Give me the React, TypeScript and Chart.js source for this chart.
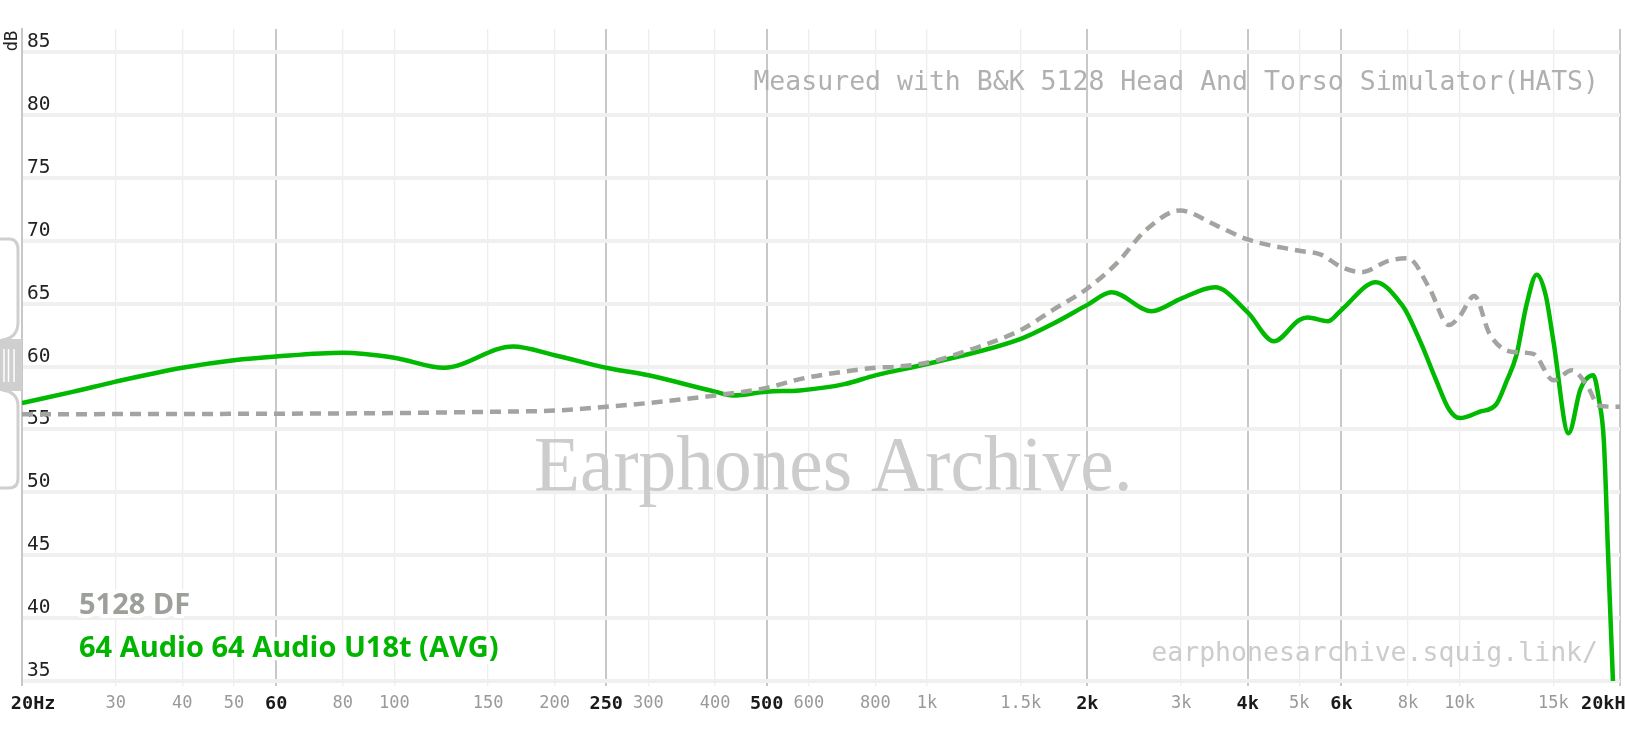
import { useEffect, useRef } from 'react';
import { Chart, registerables, Plugin } from 'chart.js';

Chart.register(...registerables);

// 5128 DF target (dashed grey)
const dfFreqs = [20, 100, 150, 200, 250, 300, 400, 500, 577, 700, 800, 886, 1000, 1200, 1500, 1724, 2000, 2270, 2584, 2985, 3497, 4000, 5000, 5490, 6000, 6544, 7354, 8000, 8756, 9548, 10000, 10654, 11380, 12420, 13750, 15000, 16240, 17340, 18256, 19776, 20000];
const dfValues = [56.2, 56.3, 56.4, 56.5, 56.8, 57.1, 57.7, 58.3, 59.0, 59.6, 59.9, 60.0, 60.3, 61.3, 62.9, 64.5, 66.2, 68.2, 70.9, 72.4, 71.2, 70.1, 69.2, 68.9, 67.9, 67.5, 68.4, 68.6, 66.3, 63.3, 64.0, 65.6, 62.6, 61.2, 61.0, 58.9, 59.7, 58.5, 56.9, 56.8, 56.8];

// 64 Audio U18t (AVG) (green)
const iemFreqs = [20, 25, 30, 40, 50, 60, 80, 100, 124, 167, 200, 250, 300, 400, 432, 500, 577, 700, 800, 1000, 1500, 1724, 2000, 2221, 2641, 3000, 3472, 4000, 4480, 5000, 5185, 5660, 6000, 6958, 7792, 8000, 8492, 9016, 9548, 10000, 10890, 11714, 12240, 12781, 13350, 13952, 14500, 15000, 16016, 16860, 17812, 18256, 18656, 19000, 19400, 20000];
const iemValues = [57.1, 58.0, 58.8, 59.9, 60.5, 60.8, 61.1, 60.7, 59.9, 61.6, 60.9, 59.9, 59.3, 58.0, 57.7, 58.0, 58.1, 58.6, 59.3, 60.2, 62.2, 63.4, 64.9, 65.9, 64.4, 65.4, 66.3, 64.3, 62.0, 63.7, 63.9, 63.6, 64.5, 66.7, 64.9, 64.1, 61.7, 59.0, 56.6, 55.9, 56.4, 57.0, 58.8, 60.9, 64.9, 67.3, 65.7, 62.0, 54.7, 58.2, 59.3, 57.4, 54.0, 45.0, 35.0, 25.0];

const xTickValues = [20, 30, 40, 50, 60, 80, 100, 150, 200, 250, 300, 400, 500, 600, 800, 1000, 1500, 2000, 3000, 4000, 5000, 6000, 8000, 10000, 15000, 20000];
const xTickLabels = ['  20Hz', '30', '40', '50', '60', '80', '100', '150', '200', '250', '300', '400', '500', '600', '800', '1k', '1.5k', '2k', '3k', '4k', '5k', '6k', '8k', '10k', '15k', '20kHz  '];
const xMajorTicks = [20, 60, 250, 500, 2000, 4000, 6000, 20000];
const yTickValues = [35, 40, 45, 50, 55, 60, 65, 70, 75, 80, 85];

const seriesNames = ['5128 DF', '64 Audio 64 Audio U18t (AVG)'];
const seriesColors = ['#a2a49f', '#00b900'];
const legendColors = ['#9da09a', '#00b400'];

const MONO = '"DejaVu Sans Mono", monospace';

const decorPlugin: Plugin<'line'> = {
  id: 'decor',
  beforeDatasetsDraw(chart) {
    const ctx = chart.ctx;
    ctx.save();
    // watermark
    ctx.save();
    ctx.translate(534, 490);
    ctx.scale(0.954, 1);
    ctx.font = '79px "Liberation Serif", serif';
    ctx.fillStyle = '#cccccc';
    ctx.textAlign = 'left';
    ctx.textBaseline = 'alphabetic';
    ctx.fillText('Earphones Archive.', 0, 0);
    ctx.restore();
    // measurement note
    ctx.font = '26.5px ' + MONO;
    ctx.textAlign = 'right';
    ctx.textBaseline = 'alphabetic';
    ctx.fillStyle = '#b0b0b0';
    ctx.fillText('Measured with B&K 5128 Head And Torso Simulator(HATS)', 1599, 90);
    ctx.fillStyle = '#cccccc';
    ctx.fillText('earphonesarchive.squig.link/', 1598, 661);
    ctx.restore();
  },
  afterDraw(chart) {
    const ctx = chart.ctx;
    ctx.save();
    // legend
    ctx.font = 'bold 29px "Open Sans", sans-serif';
    ctx.textAlign = 'left';
    ctx.textBaseline = 'alphabetic';
    ctx.lineJoin = 'round';
    const baselines = [614, 657];
    seriesNames.forEach((name, i) => {
      ctx.strokeStyle = '#ffffff';
      ctx.lineWidth = 8;
      ctx.strokeText(name, 79, baselines[i]);
      ctx.fillStyle = legendColors[i];
      ctx.fillText(name, 79, baselines[i]);
    });
    // dB title
    ctx.save();
    ctx.translate(13, 41);
    ctx.rotate(-Math.PI / 2);
    ctx.font = '17px ' + MONO;
    ctx.fillStyle = '#222';
    ctx.textAlign = 'center';
    ctx.textBaseline = 'middle';
    ctx.fillText('dB', 0, 0);
    ctx.restore();
    // side handle
    ctx.strokeStyle = '#cfcfcf';
    ctx.fillStyle = '#cfcfcf';
    ctx.lineWidth = 3;
    ctx.beginPath();
    ctx.moveTo(0, 239);
    ctx.lineTo(9, 239);
    ctx.quadraticCurveTo(18, 239, 18, 250);
    ctx.lineTo(18, 322);
    ctx.quadraticCurveTo(18, 338, 2, 340);
    ctx.stroke();
    ctx.beginPath();
    ctx.moveTo(2, 390);
    ctx.quadraticCurveTo(18, 392, 18, 406);
    ctx.lineTo(18, 478);
    ctx.quadraticCurveTo(18, 488, 9, 488);
    ctx.lineTo(0, 488);
    ctx.stroke();
    ctx.fillRect(0, 339, 22, 52);
    ctx.strokeStyle = '#ffffff';
    ctx.lineWidth = 1.5;
    [4, 8.5, 14].forEach((x) => {
      ctx.beginPath();
      ctx.moveTo(x, 349);
      ctx.lineTo(x, 382);
      ctx.stroke();
    });
    ctx.restore();
  },
};

export default function App() {
  const chartRef = useRef<HTMLCanvasElement | null>(null);

  useEffect(() => {
    if (!chartRef.current) return;
    const ctx = chartRef.current.getContext('2d');
    if (!ctx) return;

    const isMajor = (v: number) => xMajorTicks.includes(v);

    const chartInstance = new Chart(ctx, {
      type: 'line',
      data: {
        datasets: [
          {
            label: seriesNames[0],
            data: dfFreqs.map((f, i) => ({ x: f, y: dfValues[i] })),
            borderColor: seriesColors[0],
            borderWidth: 4.5,
            borderDash: [11, 7],
            pointRadius: 0,
            cubicInterpolationMode: 'monotone',
            order: 0,
          },
          {
            label: seriesNames[1],
            data: iemFreqs.map((f, i) => ({ x: f, y: iemValues[i] })),
            borderColor: seriesColors[1],
            borderWidth: 4.5,
            pointRadius: 0,
            cubicInterpolationMode: 'monotone',
            order: 1,
          },
        ],
      },
      options: {
        animation: false,
        responsive: true,
        maintainAspectRatio: false,
        layout: { padding: { top: 29, right: 5, left: 0, bottom: 0 } },
        plugins: {
          legend: { display: false },
          tooltip: { enabled: false },
        },
        scales: {
          x: {
            type: 'logarithmic',
            min: 20,
            max: 20000,
            afterBuildTicks: (scale) => {
              scale.ticks = xTickValues.map((v) => ({ value: v }));
            },
            afterFit: (scale) => {
              scale.height = 67;
              scale.paddingLeft = 0;
              scale.paddingRight = 0;
            },
            border: { display: false },
            grid: {
              drawTicks: true,
              tickLength: 5,
              color: (c) => (isMajor(c.tick?.value) ? '#c8c8c8' : '#ededed'),
              tickColor: (c) => (isMajor(c.tick?.value) ? '#c8c8c8' : '#ededed'),
              lineWidth: (c) => (isMajor(c.tick?.value) ? 2 : 1.3),
            },
            ticks: {
              autoSkip: false,
              maxRotation: 0,
              padding: 7,
              callback: (value) => xTickLabels[xTickValues.indexOf(Number(value))] ?? '',
              color: (c) => (isMajor(c.tick?.value) ? '#1a1a1a' : '#999999'),
              font: (c) =>
                isMajor(c.tick?.value)
                  ? { family: MONO, size: 18.5, weight: 'bold' }
                  : { family: MONO, size: 17, weight: 'normal' },
            },
          },
          y: {
            type: 'linear',
            position: 'left',
            min: 35,
            max: 86.83,
            afterBuildTicks: (scale) => {
              scale.ticks = yTickValues.map((v) => ({ value: v }));
            },
            afterFit: (scale) => {
              scale.width = 22;
              scale.paddingTop = 0;
              scale.paddingBottom = 0;
            },
            border: { display: true, color: '#c8c8c8', width: 2 },
            grid: {
              drawTicks: false,
              color: '#f0f0f0',
              lineWidth: 4,
            },
            ticks: {
              mirror: true,
              padding: 5,
              labelOffset: -10,
              color: '#222222',
              font: { family: MONO, size: 19.5 },
            },
          },
        },
      },
      plugins: [decorPlugin],
    });

    return () => {
      chartInstance.destroy();
    };
  }, []);

  return (
    <div style={{ position: 'fixed', left: 0, top: 0, width: 1625, height: 748, background: '#fff' }}>
      <canvas ref={chartRef}></canvas>
    </div>
  );
}
